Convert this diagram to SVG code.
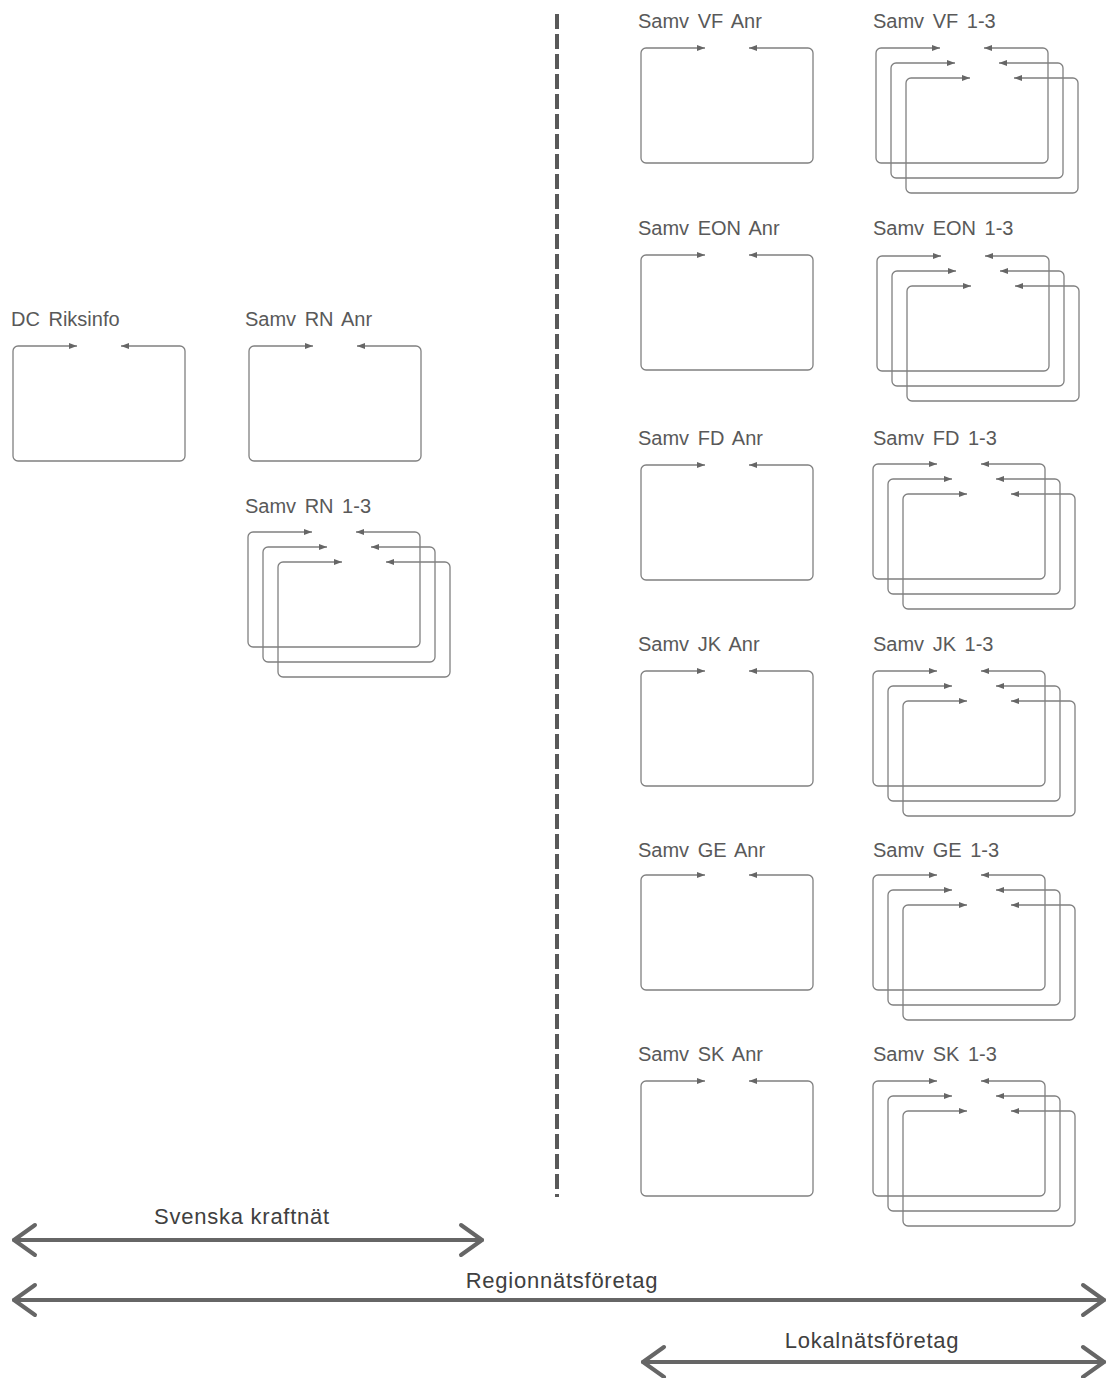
<svg xmlns="http://www.w3.org/2000/svg" xmlns:xlink="http://www.w3.org/1999/xlink" width="1107" height="1378" viewBox="0 0 1107 1378">
<style>
.lbl{font-family:"Liberation Sans",Arial,sans-serif;font-size:20px;fill:#595959;word-spacing:3px}
.big{font-family:"Liberation Sans",Arial,sans-serif;font-size:22px;fill:#404040;letter-spacing:0.75px;text-anchor:middle}
.fr{fill:none;stroke:#808080;stroke-width:1.3;marker-start:url(#ah);marker-end:url(#ah)}
.span{fill:none;stroke:#666;stroke-width:4;stroke-linecap:round;stroke-linejoin:round}
.dash{stroke:#595959;stroke-width:4;stroke-dasharray:15 5}
</style>
<defs>
<marker id="ah" viewBox="0 0 8 6" refX="8" refY="3" markerWidth="8" markerHeight="6" markerUnits="userSpaceOnUse" orient="auto-start-reverse">
<path d="M0,0 L8,3 L0,6 z" fill="#666"/>
</marker>
<path id="frame" class="fr" d="M64,0 H5 A5,5 0 0 0 0,5 V110 A5,5 0 0 0 5,115 H167 A5,5 0 0 0 172,110 V5 A5,5 0 0 0 167,0 H108"/>
<g id="stack">
<use xlink:href="#frame"/>
<use xlink:href="#frame" x="15" y="15"/>
<use xlink:href="#frame" x="30" y="30"/>
</g>
</defs>
<rect width="1107" height="1378" fill="#fff"/>

<g id="divider"><line class="dash" x1="557" y1="14" x2="557" y2="1197"/></g>

<g id="dc-riksinfo"><text class="lbl" x="11" y="326">DC Riksinfo</text><use xlink:href="#frame" x="13" y="346"/></g>
<g id="samv-rn-anr"><text class="lbl" x="245" y="326">Samv RN Anr</text><use xlink:href="#frame" x="249" y="346"/></g>
<g id="samv-rn-13"><text class="lbl" x="245" y="513">Samv RN 1-3</text><use xlink:href="#stack" x="248" y="532"/></g>

<g id="samv-vf-anr"><text class="lbl" x="638" y="28">Samv VF Anr</text><use xlink:href="#frame" x="641" y="48"/></g>
<g id="samv-vf-13"><text class="lbl" x="873" y="28">Samv VF 1-3</text><use xlink:href="#stack" x="876" y="48"/></g>

<g id="samv-eon-anr"><text class="lbl" x="638" y="235">Samv EON Anr</text><use xlink:href="#frame" x="641" y="255"/></g>
<g id="samv-eon-13"><text class="lbl" x="873" y="235">Samv EON 1-3</text><use xlink:href="#stack" x="877" y="256"/></g>

<g id="samv-fd-anr"><text class="lbl" x="638" y="445">Samv FD Anr</text><use xlink:href="#frame" x="641" y="465"/></g>
<g id="samv-fd-13"><text class="lbl" x="873" y="445">Samv FD 1-3</text><use xlink:href="#stack" x="873" y="464"/></g>

<g id="samv-jk-anr"><text class="lbl" x="638" y="651">Samv JK Anr</text><use xlink:href="#frame" x="641" y="671"/></g>
<g id="samv-jk-13"><text class="lbl" x="873" y="651">Samv JK 1-3</text><use xlink:href="#stack" x="873" y="671"/></g>

<g id="samv-ge-anr"><text class="lbl" x="638" y="857">Samv GE Anr</text><use xlink:href="#frame" x="641" y="875"/></g>
<g id="samv-ge-13"><text class="lbl" x="873" y="857">Samv GE 1-3</text><use xlink:href="#stack" x="873" y="875"/></g>

<g id="samv-sk-anr"><text class="lbl" x="638" y="1061">Samv SK Anr</text><use xlink:href="#frame" x="641" y="1081"/></g>
<g id="samv-sk-13"><text class="lbl" x="873" y="1061">Samv SK 1-3</text><use xlink:href="#stack" x="873" y="1081"/></g>

<g id="connectors">
<g id="span-svk">
<line class="span" x1="14" y1="1240" x2="482" y2="1240"/>
<polyline class="span" points="35,1225 14,1240 35,1255"/>
<polyline class="span" points="461,1225 482,1240 461,1255"/>
</g>
<g id="span-region">
<line class="span" x1="14" y1="1300" x2="1104" y2="1300"/>
<polyline class="span" points="35,1285 14,1300 35,1315"/>
<polyline class="span" points="1083,1285 1104,1300 1083,1315"/>
</g>
<g id="span-lokal">
<line class="span" x1="643" y1="1362" x2="1104" y2="1362"/>
<polyline class="span" points="664,1347 643,1362 664,1377"/>
<polyline class="span" points="1083,1347 1104,1362 1083,1377"/>
</g>
</g>
<text class="big" x="242" y="1224">Svenska kraftnät</text>
<text class="big" x="562" y="1288">Regionnätsföretag</text>
<text class="big" x="872" y="1348">Lokalnätsföretag</text>
</svg>
